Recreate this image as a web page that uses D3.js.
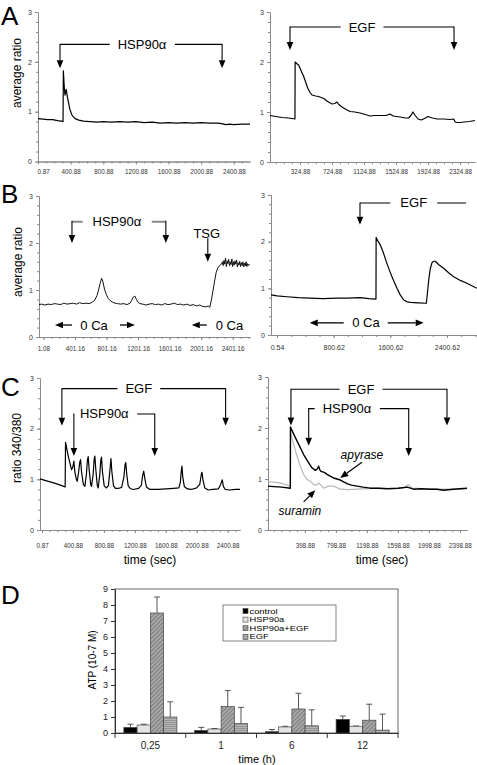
<!DOCTYPE html>
<html><head><meta charset="utf-8">
<script src="https://cdn.jsdelivr.net/npm/d3@7"></script>
<style>body{margin:0;background:#fff}svg{display:block}text{font-family:"Liberation Sans",Arial,sans-serif}</style>
</head><body><svg id="c" width="477" height="765"></svg>
<script>
// ================= DATA =================
const ratioTicks = [0, 1, 2, 3];
const aLeftLabels = [0.87, 400.88, 800.88, 1200.88, 1600.88, 2000.88, 2400.88];
const aRightLabels = [324.88, 724.88, 1124.88, 1524.88, 1924.88, 2324.88];
const bLeftLabels = [1.08, 401.16, 801.16, 1201.16, 1601.16, 2001.16, 2401.16];
const bRightLabels = [0.54, 800.62, 1600.62, 2400.62];
const cLeftLabels = [0.87, 400.88, 800.88, 1200.88, 1600.88, 2000.88, 2400.88];
const cRightLabels = [398.88, 798.88, 1198.88, 1598.88, 1998.88, 2398.88];

// [time (s), ratio]
const aLeftTrace = [[0,0.86],[60,0.85],[120,0.84],[180,0.84],[240,0.82],[290,0.81],[307,0.8],[311,1.82],[322,1.5],[331,1.33],[345,1.45],[360,1.3],[390,1.05],[420,0.92],[455,0.86],[500,0.83],[560,0.81],[640,0.8],[720,0.79],[800,0.8],[900,0.79],[1000,0.8],[1100,0.79],[1200,0.8],[1300,0.78],[1400,0.79],[1500,0.77],[1600,0.78],[1700,0.77],[1800,0.78],[1900,0.77],[2000,0.78],[2100,0.77],[2200,0.77],[2250,0.76],[2300,0.74],[2350,0.75],[2400,0.74],[2500,0.75],[2600,0.75]];
const aRightTrace = [[-50,0.93],[20,0.91],[100,0.89],[180,0.88],[262,0.86],[264,2.0],[290,1.96],[308,1.94],[340,1.82],[371,1.71],[400,1.58],[421,1.48],[450,1.39],[475,1.34],[520,1.32],[558,1.31],[590,1.29],[621,1.27],[670,1.21],[725,1.16],[760,1.17],[787,1.2],[810,1.15],[850,1.1],[900,1.05],[950,1.01],[1010,1.0],[1075,0.98],[1140,0.95],[1200,0.92],[1260,0.93],[1325,0.93],[1400,0.93],[1450,0.96],[1490,0.92],[1575,0.9],[1640,0.88],[1683,0.88],[1710,0.93],[1737,1.0],[1765,0.93],[1800,0.86],[1840,0.84],[1880,0.87],[1925,0.91],[1980,0.88],[2037,0.86],[2120,0.86],[2200,0.85],[2246,0.86],[2265,0.8],[2287,0.79],[2330,0.79],[2371,0.8],[2440,0.81],[2512,0.83]];
const bLeftTrace = [[-55,0.69],[-20,0.7],[20,0.68],[60,0.7],[100,0.69],[140,0.71],[180,0.7],[220,0.69],[260,0.72],[300,0.7],[340,0.71],[380,0.72],[420,0.7],[460,0.73],[500,0.71],[540,0.72],[580,0.71],[620,0.74],[650,0.78],[680,0.88],[700,1.0],[720,1.14],[739,1.25],[755,1.18],[775,1.02],[800,0.9],[823,0.82],[850,0.77],[880,0.74],[908,0.72],[940,0.71],[980,0.7],[1020,0.71],[1060,0.69],[1100,0.72],[1120,0.78],[1140,0.85],[1161,0.87],[1180,0.8],[1200,0.74],[1224,0.71],[1260,0.7],[1300,0.68],[1340,0.7],[1380,0.71],[1420,0.69],[1460,0.7],[1500,0.68],[1540,0.71],[1580,0.69],[1620,0.7],[1660,0.72],[1700,0.69],[1740,0.7],[1780,0.68],[1820,0.7],[1860,0.67],[1900,0.69],[1940,0.66],[1980,0.68],[2020,0.65],[2060,0.64],[2090,0.66],[2110,0.63],[2131,0.79],[2152,1.0],[2173,1.21],[2192,1.38],[2212,1.47],[2235,1.52],[2258,1.55],[2270,1.6],[2280,1.52],[2290,1.63],[2300,1.55],[2310,1.68],[2320,1.5],[2330,1.62],[2340,1.56],[2350,1.65],[2360,1.52],[2370,1.6],[2380,1.54],[2390,1.66],[2400,1.5],[2410,1.6],[2420,1.53],[2430,1.62],[2440,1.55],[2450,1.64],[2460,1.49],[2470,1.58],[2480,1.53],[2490,1.61],[2500,1.5],[2510,1.58],[2520,1.52],[2530,1.6],[2540,1.49],[2550,1.57],[2560,1.51],[2570,1.6],[2580,1.5],[2590,1.56],[2600,1.52],[2616,1.55]];
const bRightTrace = [[-85,0.86],[0,0.84],[141,0.82],[300,0.8],[466,0.79],[650,0.78],[847,0.79],[1000,0.79],[1172,0.8],[1300,0.78],[1398,0.77],[1400,2.09],[1430,2.0],[1459,1.93],[1505,1.75],[1553,1.53],[1590,1.38],[1624,1.25],[1660,1.12],[1695,1.0],[1740,0.86],[1790,0.75],[1840,0.71],[1883,0.7],[2000,0.69],[2109,0.68],[2125,0.9],[2143,1.18],[2165,1.42],[2189,1.55],[2215,1.58],[2236,1.58],[2290,1.5],[2354,1.43],[2420,1.34],[2495,1.25],[2590,1.17],[2683,1.11],[2760,1.05],[2825,1.0]];
const cLeftTrace = [[-25,1.01],[60,0.97],[150,0.93],[230,0.89],[300,0.85],[305,1.73],[340,1.46],[383,1.19],[400,1.25],[413,1.36],[425,1.15],[445,1.0],[456,0.96],[475,1.15],[488,1.33],[499,1.39],[512,1.15],[535,0.9],[555,0.86],[575,1.1],[588,1.38],[598,1.45],[610,1.2],[630,0.9],[641,0.86],[662,1.1],[675,1.4],[684,1.46],[696,1.2],[715,0.88],[727,0.83],[748,1.1],[761,1.38],[770,1.44],[782,1.15],[805,0.87],[834,0.83],[860,0.88],[880,1.2],[892,1.41],[904,1.15],[925,0.87],[950,0.82],[985,0.82],[1030,0.84],[1060,1.05],[1075,1.3],[1084,1.33],[1096,1.1],[1115,0.87],[1140,0.82],[1179,0.8],[1250,0.82],[1285,0.88],[1302,1.08],[1316,1.16],[1330,1.02],[1350,0.85],[1394,0.8],[1500,0.8],[1608,0.81],[1700,0.82],[1770,0.83],[1790,0.95],[1800,1.15],[1810,1.26],[1820,1.05],[1840,0.86],[1880,0.81],[1931,0.8],[2000,0.83],[2040,0.9],[2058,1.08],[2069,1.14],[2082,0.98],[2105,0.83],[2150,0.79],[2210,0.8],[2280,0.81],[2310,0.9],[2331,0.99],[2345,0.86],[2370,0.8],[2426,0.79],[2500,0.8],[2560,0.8]];
const cRightApyrase = [[-77,0.86],[0,0.85],[100,0.84],[211,0.82],[213,2.02],[254,1.88],[319,1.68],[383,1.48],[434,1.35],[490,1.22],[533,1.17],[560,1.2],[576,1.25],[592,1.18],[606,1.15],[649,1.13],[684,1.09],[730,1.05],[770,1.02],[856,0.98],[942,0.91],[1000,0.88],[1071,0.86],[1150,0.84],[1243,0.82],[1350,0.82],[1458,0.81],[1600,0.82],[1716,0.84],[1760,0.82],[1802,0.8],[1900,0.81],[2017,0.8],[2100,0.8],[2189,0.78],[2250,0.79],[2318,0.8],[2400,0.81],[2490,0.82]];
const cRightSuramin = [[-77,0.95],[0,0.94],[93,0.92],[150,0.89],[211,0.86],[213,1.92],[254,1.68],[297,1.45],[340,1.25],[383,1.09],[426,0.99],[469,0.96],[512,0.89],[545,0.88],[576,0.92],[605,0.88],[641,0.82],[670,0.84],[705,0.86],[770,0.86],[856,0.8],[942,0.79],[1071,0.8],[1200,0.81],[1329,0.82],[1500,0.81],[1673,0.82],[1729,0.89],[1781,0.82],[1900,0.81],[2100,0.8],[2300,0.8],[2490,0.81]];

// Panel D
const dCategories = ["0,25", "1", "6", "12"];
const dSeries = ["control", "HSP90a", "HSP90a+EGF", "EGF"];
const dControl = [0.35, 0.15, 0.08, 0.85];
const dControlErr = [0.2, 0.2, 0.14, 0.21];
const dHsp = [0.5, 0.25, 0.38, 0.42];
const dHspErr = [0.05, 0.03, 0.04, 0.02];
const dHspEgf = [7.5, 1.65, 1.5, 0.8];
const dHspEgfErr = [1.0, 1.0, 0.98, 1.0];
const dEgf = [1.0, 0.6, 0.45, 0.18];
const dEgfErr = [0.95, 1.0, 1.0, 1.0];
const dTicks = [0,1,2,3,4,5,6,7,8,9];

// ================= DRAW =================
const svg = d3.select("#c");
const FONT = '"Liberation Sans",Arial,sans-serif';
const defs = svg.append("defs");
const pd = defs.append("pattern").attr("id","diag").attr("patternUnits","userSpaceOnUse").attr("width",3).attr("height",3).attr("patternTransform","rotate(45)");
pd.append("rect").attr("width",3).attr("height",3).attr("fill","#a8a8a8");
pd.append("line").attr("x1",0.5).attr("y1",0).attr("x2",0.5).attr("y2",3).attr("stroke","#7a7a7a").attr("stroke-width",1);
const ph = defs.append("pattern").attr("id","horiz").attr("patternUnits","userSpaceOnUse").attr("width",3).attr("height",2);
ph.append("rect").attr("width",3).attr("height",2).attr("fill","#b5b5b5");
ph.append("line").attr("x1",0).attr("y1",0.5).attr("x2",3).attr("y2",0.5).attr("stroke","#8a8a8a").attr("stroke-width",0.8);

function styleAxis(sel, fs, col) {
  sel.attr("font-family", FONT).attr("font-size", fs);
  sel.select(".domain").attr("stroke", col);
  sel.selectAll(".tick line").attr("stroke", col);
  sel.selectAll(".tick text").attr("fill", "#333");
}

function drawPanel(c) {
  const x = d3.scaleLinear().domain(c.tDom).range(c.xRange);
  const y = d3.scaleLinear().domain([0, 3]).range(c.yRange);
  const g = svg.append("g");
  const x0 = c.xRange[0];
  g.append("g").attr("transform", `translate(${x0},0)`)
    .call(d3.axisLeft(y).tickValues(d3.range(16).map(i => i / 5)).tickSize(2).tickSizeOuter(0).tickFormat(""))
    .call(s => styleAxis(s, 7, "#8a8a8a"));
  g.append("g").attr("transform", `translate(${x0},0)`)
    .call(d3.axisLeft(y).tickValues(ratioTicks).tickSize(3).tickSizeOuter(0).tickPadding(3).tickFormat(d3.format("d")))
    .call(s => styleAxis(s, 7, "#8a8a8a"));
  const minor = d3.range(c.minorStart, c.tDom[1], c.minorStep).filter(t => t >= c.tDom[0]);
  g.append("g").attr("transform", `translate(0,${y(0)})`)
    .call(d3.axisBottom(x).tickValues(minor).tickSize(2).tickSizeOuter(0).tickFormat(""))
    .call(s => styleAxis(s, 6.3, "#8a8a8a"));
  const xa = g.append("g").attr("transform", `translate(0,${y(0)})`)
    .call(d3.axisBottom(x).tickValues(c.labels).tickSize(3).tickSizeOuter(0).tickPadding(c.pad).tickFormat(d3.format(".2f")))
    .call(s => styleAxis(s, c.lfs || 6.3, "#8a8a8a"));
  if (c.firstStart) xa.selectAll(".tick text").filter((d, i) => i === 0).attr("text-anchor", "start").attr("dx", -1);
  c.traces.forEach(tr => {
    g.append("path").datum(tr.data)
      .attr("d", d3.line().x(d => x(d[0])).y(d => y(d[1])))
      .attr("fill", "none").attr("stroke", tr.color).attr("stroke-width", tr.w).attr("stroke-linejoin", "round");
  });
  return { x, y, g };
}

function arrow(g, x1, y1, x2, y2, o = {}) {
  const len = o.len || 8, wid = o.wid || 3.3;
  const ang = Math.atan2(y2 - y1, x2 - x1);
  const bx = x2 - len * Math.cos(ang), by = y2 - len * Math.sin(ang);
  g.append("line").attr("x1", x1).attr("y1", y1).attr("x2", bx).attr("y2", by)
    .attr("stroke", o.color || "#000").attr("stroke-width", o.sw || 1.1);
  const px = -Math.sin(ang) * wid, py = Math.cos(ang) * wid;
  g.append("path").attr("d", `M${x2},${y2}L${bx + px},${by + py}L${bx - px},${by - py}Z`).attr("fill", o.color || "#000");
}

function label(g, px, py, txt, o = {}) {
  return g.append("text").attr("x", px).attr("y", py).attr("text-anchor", o.anchor || "middle")
    .attr("dominant-baseline", "central").attr("font-family", FONT).attr("font-size", o.fs || 13)
    .attr("font-style", o.italic ? "italic" : null).attr("fill", "#000").text(txt);
}

function bracket(P, b) {
  const { x, y, g } = P;
  const yy = y(b.v);
  g.append("line").attr("x1", x(b.t1)).attr("x2", x(b.t2)).attr("y1", yy).attr("y2", yy)
    .attr("stroke", b.hColor || "#000").attr("stroke-width", b.hw || 1.1);
  const t = label(g, x(b.tl), yy, b.label, { fs: 13 });
  const bb = t.node().getBBox();
  const pad = b.pad == null ? 8 : b.pad;
  g.insert("rect", () => t.node()).attr("x", bb.x - pad).attr("y", bb.y - 1).attr("width", bb.width + 2 * pad).attr("height", bb.height + 2).attr("fill", "#fff");
  if (b.tip1 != null) arrow(g, x(b.t1), yy - (b.hw ? b.hw / 2 : 0.5), x(b.t1), y(b.tip1));
  if (b.tip2 != null) arrow(g, x(b.t2), yy - (b.hw ? b.hw / 2 : 0.5), x(b.t2), y(b.tip2));
}

function dualArrow(P, v, tTipL, tL, tText, tR, tTipR, txt) {
  const { x, y, g } = P;
  if (tTipL != null) arrow(g, x(tL), y(v), x(tTipL), y(v), { sw: 1.3 });
  label(g, x(tText), y(v), txt, { fs: 13, anchor: tTipR == null && tR == null ? "start" : "middle" });
  if (tTipR != null) arrow(g, x(tR), y(v), x(tTipR), y(v), { sw: 1.3 });
}

// ---- Panel A ----
const A1 = drawPanel({ tDom: [0, 2600], xRange: [38, 250], yRange: [161.5, 12], labels: aLeftLabels, minorStart: 0.87, minorStep: 100, pad: 5, firstStart: true,
  traces: [{ data: aLeftTrace, color: "#000", w: 1.2 }] });
const A2 = drawPanel({ tDom: [-50, 2512], xRange: [270, 475], yRange: [162, 12], labels: aRightLabels, minorStart: 24.88, minorStep: 100, pad: 5,
  traces: [{ data: aRightTrace, color: "#000", w: 1.2 }] });
bracket(A1, { t1: 270, t2: 2258, v: 2.35, tip1: 1.87, tip2: 1.87, tl: 1276, label: "HSP90\u03b1" });
bracket(A2, { t1: 200, t2: 2250, v: 2.7, tip1: 2.24, tip2: 2.24, tl: 1100, label: "EGF" });

// ---- Panel B ----
const B1 = drawPanel({ tDom: [-55, 2620], xRange: [39, 250], yRange: [337, 196], labels: bLeftLabels, minorStart: 1.08, minorStep: 100, pad: 7,
  traces: [{ data: bLeftTrace, color: "#111", w: 1 }] });
const B2 = drawPanel({ tDom: [-85, 2825], xRange: [271, 477], yRange: [335, 195], labels: bRightLabels, minorStart: 0.54, minorStep: 200, pad: 7, lfs: 7,
  traces: [{ data: bRightTrace, color: "#000", w: 1.2 }] });
bracket(B1, { t1: 363, t2: 1553, v: 2.45, tip1: 2.0, tip2: 2.0, tl: 933, label: "HSP90\u03b1", hColor: "#888", hw: 2, pad: 10 });
label(B1.g, B1.x(2072), B1.y(2.2), "TSG");
arrow(B1.g, B1.x(2085), B1.y(2.1), B1.x(2085), B1.y(1.6));
dualArrow(B1, 0.255, 148, 363, 643, 972, 1161, "0 Ca");
arrow(B1.g, B1.x(2072), B1.y(0.255), B1.x(1882), B1.y(0.255), { sw: 1.3 });
label(B1.g, B1.x(2186), B1.y(0.255), "0 Ca", { anchor: "start" });
bracket(B2, { t1: 1172, t2: 2669, v: 2.83, tip1: 2.36, tip2: null, tl: 1931, label: "EGF", pad: 10 });
dualArrow(B2, 0.26, 462, 942, 1257, 1564, 2072, "0 Ca");

// ---- Panel C ----
const C1 = drawPanel({ tDom: [-25, 2560], xRange: [40, 240], yRange: [530, 378], labels: cLeftLabels, minorStart: 0.87, minorStep: 100, pad: 11,
  traces: [{ data: cLeftTrace, color: "#000", w: 1.2 }] });
const C2 = drawPanel({ tDom: [-77, 2490], xRange: [268, 467], yRange: [530, 377], labels: cRightLabels, minorStart: -1.12, minorStep: 100, pad: 11,
  traces: [{ data: cRightSuramin, color: "#b8b8b8", w: 1.2 }, { data: cRightApyrase, color: "#000", w: 1.4 }] });
bracket(C1, { t1: 258, t2: 2374, v: 2.79, tip1: 2.06, tip2: 2.06, tl: 1252, label: "EGF" });
bracket(C1, { t1: 413, t2: 1458, v: 2.29, tip1: 1.46, tip2: 1.46, tl: 806, label: "HSP90\u03b1" });
bracket(C2, { t1: 219, t2: 2232, v: 2.76, tip1: 2.05, tip2: 2.05, tl: 1123, label: "EGF" });
bracket(C2, { t1: 448, t2: 1738, v: 2.38, tip1: 1.65, tip2: 1.45, tl: 942, label: "HSP90\u03b1" });
label(C2.g, C2.x(1135), C2.y(1.47), "apyrase", { fs: 12, italic: true });
arrow(C2.g, C2.x(1135), C2.y(1.33), C2.x(855), C2.y(1.02), { sw: 1.2 });
label(C2.g, C2.x(335), C2.y(0.38), "suramin", { fs: 12, italic: true });
arrow(C2.g, C2.x(383), C2.y(0.55), C2.x(533), C2.y(0.78), { sw: 1.2 });

// ---- axis titles & panel letters ----
function rot(px, py, txt, fs) {
  svg.append("text").attr("transform", `translate(${px},${py}) rotate(-90)`).attr("text-anchor", "middle")
    .attr("font-family", FONT).attr("font-size", fs).attr("fill", "#000").text(txt);
}
rot(21, 73, "average ratio", 12);
rot(22, 262, "average ratio", 12);
rot(21, 448, "ratio 340/380", 12);
[["A", 24.5], ["B", 203], ["C", 396], ["D", 604]].forEach(([t, yy]) => {
  svg.append("text").attr("x", 1).attr("y", yy).attr("font-family", FONT).attr("font-size", 26).attr("fill", "#000").text(t);
});
[[150, "time (sec)"], [382, "time (sec)"]].forEach(([px, t]) => {
  svg.append("text").attr("x", px).attr("y", 564).attr("text-anchor", "middle").attr("font-family", FONT).attr("font-size", 12).text(t);
});

// ---- Panel D ----
const xb = d3.scaleBand().domain(dCategories).range([115, 398]);
const xs = d3.scaleBand().domain(dSeries).range([0, xb.bandwidth()]).paddingOuter(0.67);
const yd = d3.scaleLinear().domain([0, 9]).range([733, 589]);
const dVals = [dControl, dHsp, dHspEgf, dEgf];
const dErrs = [dControlErr, dHspErr, dHspEgfErr, dEgfErr];
const dFills = ["#000", "#e4e4e4", "url(#diag)", "url(#horiz)"];
const gd = svg.append("g");
gd.append("rect").attr("x", 115).attr("y", yd(9)).attr("width", 398 - 115).attr("height", yd(0) - yd(9)).attr("fill", "none").attr("stroke", "#555").attr("stroke-width", 0.9);
gd.append("g").attr("transform", "translate(115,0)")
  .call(d3.axisLeft(yd).tickValues(dTicks).tickSize(4).tickSizeOuter(0).tickPadding(3))
  .call(s => { styleAxis(s, 9, "#333"); s.selectAll(".tick text").attr("fill", "#222"); });
gd.append("g").attr("transform", `translate(0,${yd(0)})`)
  .call(d3.axisBottom(xb).tickSize(0).tickPadding(9).tickSizeOuter(0))
  .call(s => { styleAxis(s, 10, "#333"); s.selectAll(".tick text").attr("fill", "#222"); });
dCategories.concat(["end"]).forEach(c => {
  const px = c === "end" ? xb.range()[1] : xb(c);
  gd.append("line").attr("x1", px).attr("x2", px).attr("y1", yd(0)).attr("y2", yd(0) + 5).attr("stroke", "#333");
});
dSeries.forEach((s, si) => {
  dCategories.forEach((c, ci) => {
    const bx = xb(c) + xs(s), bw = xs.bandwidth();
    const v = dVals[si][ci], e = dErrs[si][ci];
    gd.append("line").attr("x1", bx + bw / 2).attr("x2", bx + bw / 2).attr("y1", yd(v)).attr("y2", yd(v + e)).attr("stroke", "#444").attr("stroke-width", 0.9);
    gd.append("line").attr("x1", bx + bw / 2 - 3).attr("x2", bx + bw / 2 + 3).attr("y1", yd(v + e)).attr("y2", yd(v + e)).attr("stroke", "#444").attr("stroke-width", 0.9);
    gd.append("rect").attr("x", bx).attr("y", yd(v)).attr("width", bw).attr("height", yd(0) - yd(v))
      .attr("fill", dFills[si]).attr("stroke", "#444").attr("stroke-width", 0.7);
  });
});
gd.append("text").attr("x", 96).attr("y", 660).attr("transform", "rotate(-90,96,660)").attr("text-anchor", "middle")
  .attr("font-family", FONT).attr("font-size", 10).text("ATP (10-7 M)");
gd.append("text").attr("x", 257).attr("y", 763).attr("text-anchor", "middle").attr("font-family", FONT).attr("font-size", 11).text("time (h)");
// legend
const lg = gd.append("g");
lg.append("rect").attr("x", 223).attr("y", 605).attr("width", 113).attr("height", 36).attr("fill", "#fff").attr("stroke", "#666").attr("stroke-width", 0.8);
dSeries.forEach((s, i) => {
  const cy = 611 + i * 8.6;
  lg.append("rect").attr("x", 243).attr("y", cy - 2.5).attr("width", 5).attr("height", 5).attr("fill", dFills[i]).attr("stroke", "#444").attr("stroke-width", 0.6);
  lg.append("text").attr("transform", `translate(249.5,${cy}) scale(1.28,1)`).attr("dominant-baseline", "central")
    .attr("font-family", FONT).attr("font-size", 7.3).text(s);
});
</script></body></html>
